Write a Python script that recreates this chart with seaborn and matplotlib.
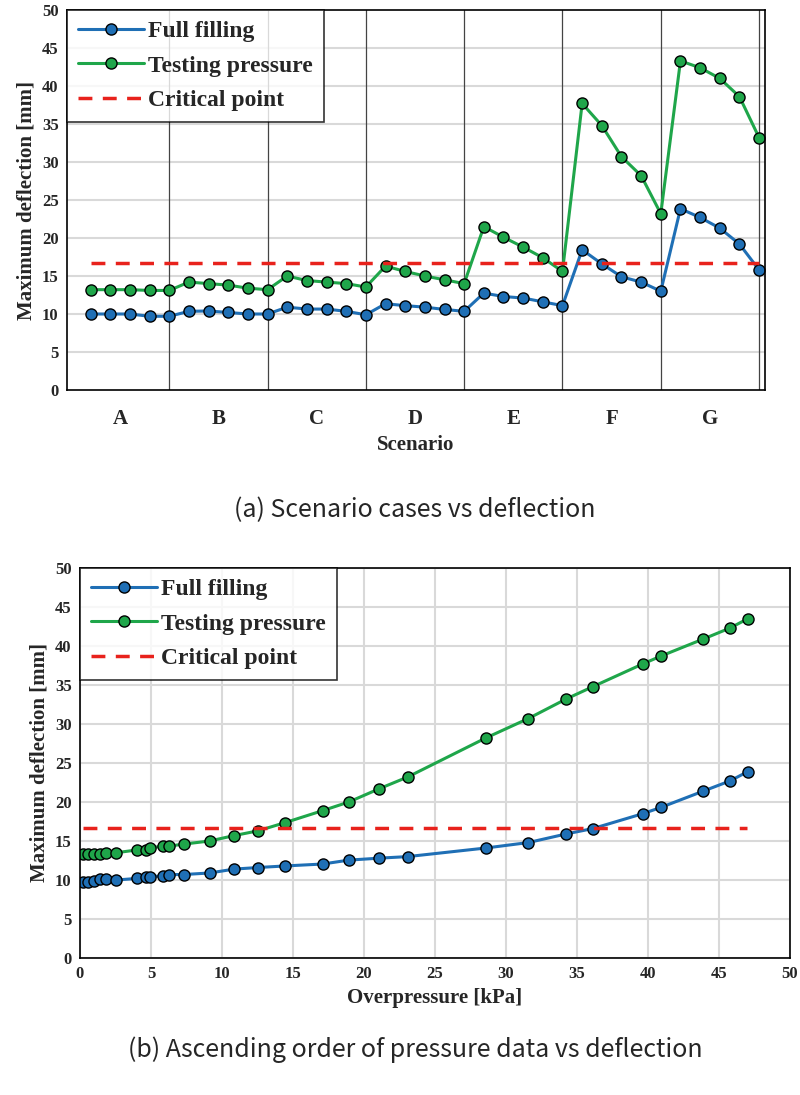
import matplotlib
matplotlib.use("Agg")
import matplotlib.pyplot as plt
import seaborn as sns
import pandas as pd
import numpy as np

scenarios = ["A", "B", "C", "D", "E", "F", "G"]
full_a = [10.0, 10.0, 10.0, 9.7, 9.7, 10.35, 10.4, 10.2, 10.0, 10.0,
          10.9, 10.65, 10.65, 10.35, 9.9, 11.35, 11.1, 10.9, 10.6, 10.35,
          12.75, 12.3, 12.1, 11.6, 11.1, 18.45, 16.6, 14.9, 14.2, 13.0,
          23.85, 22.7, 21.3, 19.2, 15.8]
test_a = [13.2, 13.2, 13.2, 13.1, 13.1, 14.2, 14.0, 13.8, 13.4, 13.2,
          15.0, 14.4, 14.2, 14.0, 13.55, 16.3, 15.6, 15.0, 14.5, 14.0,
          21.5, 20.1, 18.8, 17.4, 15.6, 37.7, 34.8, 30.7, 28.2, 23.2,
          43.3, 42.4, 41.0, 38.6, 33.2]
critical = 16.7

pressure_b = [0.23, 0.57, 1.0, 1.4, 1.8, 2.57, 4.0, 4.67, 4.93, 5.83, 6.3, 7.3,
              9.13, 10.87, 12.53, 14.43, 17.1, 18.93, 21.07, 23.07, 28.57,
              31.57, 34.23, 36.13, 39.63, 40.9, 43.9, 45.77, 47.03]
test_b = [13.3, 13.3, 13.3, 13.3, 13.5, 13.5, 13.85, 13.85, 14.1, 14.35, 14.35,
          14.6, 15.0, 15.7, 16.3, 17.35, 18.9, 20.0, 21.7, 23.2, 28.2, 30.7,
          33.2, 34.8, 37.7, 38.7, 40.9, 42.3, 43.5]
full_b = [9.8, 9.8, 9.9, 10.1, 10.1, 10.0, 10.2, 10.4, 10.4, 10.55, 10.7, 10.7,
          10.9, 11.4, 11.6, 11.8, 12.05, 12.55, 12.8, 13.0, 14.1, 14.8, 15.9,
          16.6, 18.5, 19.3, 21.4, 22.7, 23.9]

sns.set_theme(style="white")
plt.rcParams['font.family'] = ['Liberation Serif', 'DejaVu Sans']

BLUE = "#1f6fb5"
GREEN = "#1fa64a"
RED = "#e8221c"
W, H = 800, 1095
fig = plt.figure(figsize=(W/100, H/100), dpi=100)

ax1 = fig.add_axes([67/W, 1-390/H, 698/W, 380/H])
ax2 = fig.add_axes([80/W, 1-958/H, 710/W, 390/H])

def style(ax):
    for s in ax.spines.values():
        s.set_color("black"); s.set_linewidth(1.2)
    ax.tick_params(axis='both', labelsize=12, length=0, pad=6)
    for t in ax.get_yticklabels() + ax.get_xticklabels():
        t.set_fontweight("bold")

idx = np.arange(len(full_a))
df1 = pd.DataFrame({"idx": idx, "full": full_a, "test": test_a})
ax1.set_ylim(0, 50); ax1.set_xlim(-1.2, 34.3)
ax1.set_yticks(range(0, 51, 5))
for y in range(5, 50, 5):
    ax1.axhline(y, color="#d9d9d9", lw=1.5, zorder=0)
for k in range(len(scenarios)):
    ax1.axvline(4 + 5*k, color="#444444", lw=0.9, zorder=0)
mk = dict(marker="o", markersize=8, markeredgecolor="black", markeredgewidth=1, lw=2.2)
sns.lineplot(data=df1, x="idx", y="full", ax=ax1, color=BLUE, markerfacecolor=BLUE,
             label="Full filling", **mk)
sns.lineplot(data=df1, x="idx", y="test", ax=ax1, color=GREEN, markerfacecolor=GREEN,
             label="Testing pressure", **mk)
ax1.plot([0, 34], [critical, critical], color=RED, lw=2.5, ls=(0, (4, 3)), label="Critical point")
ax1.set_xticks([1.5 + 5*k for k in range(len(scenarios))])
ax1.set_xticklabels(scenarios)
ax1.set_xlabel("Scenario", fontsize=15, fontweight="bold", labelpad=4)
ax1.set_ylabel("Maximum deflection [mm]", fontsize=15, fontweight="bold")
style(ax1)
ax1.tick_params(axis='x', labelsize=15, pad=14)

df2 = pd.DataFrame({"p": pressure_b, "full": full_b, "test": test_b})
ax2.set_ylim(0, 50); ax2.set_xlim(0, 50)
ax2.set_yticks(range(0, 51, 5)); ax2.set_xticks(range(0, 51, 5))
ax2.grid(True, color="#d9d9d9", lw=1.5)
ax2.set_axisbelow(True)
sns.lineplot(data=df2, x="p", y="full", ax=ax2, color=BLUE, markerfacecolor=BLUE,
             label="Full filling", **mk)
sns.lineplot(data=df2, x="p", y="test", ax=ax2, color=GREEN, markerfacecolor=GREEN,
             label="Testing pressure", **mk)
ax2.plot([0.2, 47], [critical, critical], color=RED, lw=2.5, ls=(0, (4, 3)), label="Critical point")
ax2.set_xlabel("Overpressure [kPa]", fontsize=15, fontweight="bold", labelpad=4)
ax2.set_ylabel("Maximum deflection [mm]", fontsize=15, fontweight="bold")
style(ax2)

for ax in (ax1, ax2):
    leg = ax.legend(loc="upper left", frameon=True, fancybox=False,
                    borderaxespad=0, handlelength=2.8, handletextpad=0.2,
                    borderpad=0.45, labelspacing=0.55,
                    prop={"family": "Liberation Serif", "weight": "bold", "size": 17})
    leg.get_frame().set_edgecolor("black"); leg.get_frame().set_linewidth(1.2)

cap = ["Noto Sans CJK KR", "DejaVu Sans"]
fig.text(415/W, 1-510/H, "(a) Scenario cases vs deflection", ha="center", va="center",
         fontsize=18, family=cap)
fig.text(415/W, 1-1050/H, "(b) Ascending order of pressure data vs deflection", ha="center",
         va="center", fontsize=18, family=cap)

fig.savefig("out.png", dpi=100)
